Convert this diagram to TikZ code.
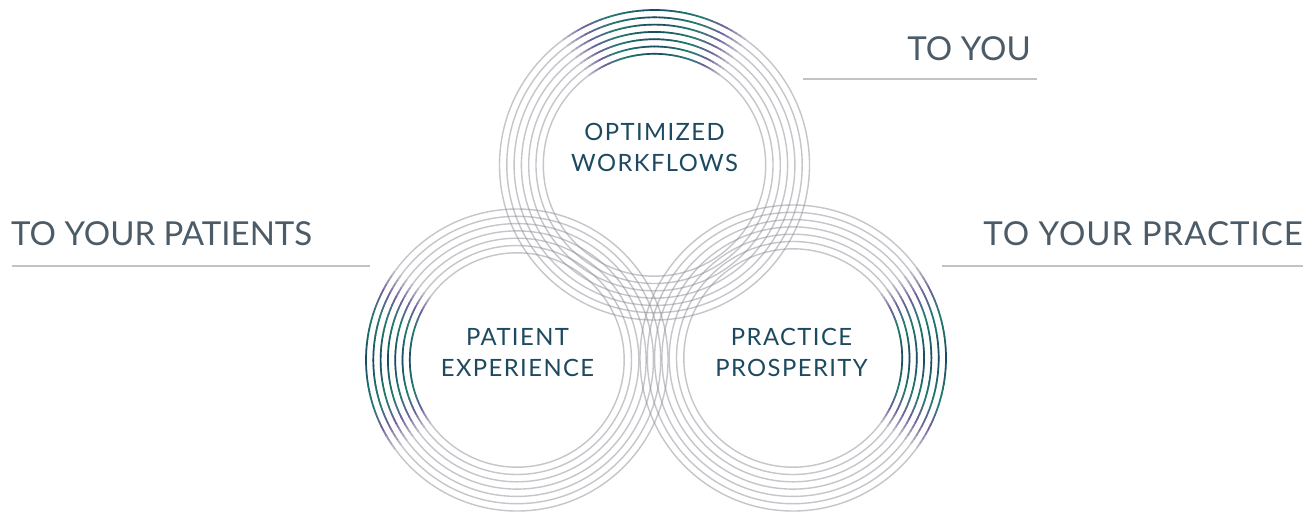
\documentclass[tikz,border=0pt]{standalone}
\usepackage{fontspec}
\setmainfont{Lato}
\newfontfamily\lblfont[LetterSpace=6]{Lato}
\newfontfamily\widefont[LetterSpace=3]{Lato}
\definecolor{navyc}{HTML}{1A4A62}
\definecolor{tealc}{HTML}{1E7D6E}
\definecolor{purplec}{HTML}{7060A0}
\definecolor{ringc}{HTML}{8C8C96}
\definecolor{ringlight}{HTML}{C5C5CA}
\definecolor{labc}{HTML}{1D4A60}
\definecolor{sidec}{HTML}{4B5B67}
\definecolor{rulec}{HTML}{C3C3C3}
\tikzset{
 ring/.style={draw=ringc, draw opacity=0.5, line width=1.4pt},
 glow/.style={line width=1.7pt},
 circlabel/.style={font=\lblfont\fontsize{23.8}{28}\selectfont, text=labc, inner sep=0pt, anchor=base},
 sidelabel/.style={font=\fontsize{33}{40}\selectfont, text=sidec, inner sep=0pt},
 rulerline/.style={draw=rulec, line width=2pt}
}
\newcommand{\ringset}[4]{%
  \foreach \k in {0,...,6} {
    \pgfmathsetmacro\ringr{#3-7.3*\k}
    \draw[ring] (#1,#2) circle[radius=\ringr pt];
  }
  \foreach \k in {0,...,6} {
    \pgfmathsetmacro\ringr{#3-7.3*\k}
    \foreach \a in {-36,-34,...,34} {
      \pgfmathsetmacro\dd{abs(\a+1)}
      \ifdim\dd pt<16pt
        \pgfmathtruncatemacro\mixv{\dd/16*100}
        \colorlet{segc}{tealc!\mixv!navyc}
      \else
        \ifdim\dd pt<27pt
          \pgfmathtruncatemacro\mixv{(\dd-16)/11*100}
          \colorlet{segc}{purplec!\mixv!tealc}
        \else
          \pgfmathtruncatemacro\mixv{min((\dd-27)/9*100,100)}
          \colorlet{segc}{ringlight!\mixv!purplec}
        \fi
      \fi
      \draw[glow, segc] (#1,#2) ++(#4+\a:\ringr pt) arc[start angle=#4+\a, end angle=#4+\a+2.2, radius=\ringr pt];
    }
  }
}
\begin{document}
\begin{tikzpicture}[x=1pt,y=1pt]
\useasboundingbox (0,0) rectangle (1313,-512);
\fill[white] (0,0) rectangle (1313,-512);
\ringset{654.5}{-165}{155}{90}
\ringset{517}{-360}{151}{180}
\ringset{793}{-358}{153}{0}

\node[circlabel] (ow1) at (654.5,-140.5) {OPTIMIZED};
\node[circlabel] (ow2) at (654.5,-171.5) {WORKFLOWS};
\node[circlabel] (pe1) at (517.5,-345) {PATIENT};
\node[circlabel] (pe2) at (517.5,-376) {EXPERIENCE};
\node[circlabel] (pp1) at (791.5,-345) {PRACTICE};
\node[circlabel] (pp2) at (791.5,-376) {PROSPERITY};

\node[sidelabel, anchor=base east] (you) at (1031,-60) {TO YOU};
\node[sidelabel, anchor=base west] (pat) at (11,-245) {TO YOUR PATIENTS};
\node[sidelabel, anchor=base east, font=\widefont\fontsize{33}{40}\selectfont] (prac) at (1303,-245) {TO YOUR PRACTICE};

\coordinate (ya) at (803,-79);
\coordinate (yb) at (1037,-79);
\coordinate (pa) at (12,-266);
\coordinate (pb) at (370,-266);
\coordinate (ra) at (942,-266);
\coordinate (rb) at (1303,-266);
\draw[rulerline] (ya) -- (yb);
\draw[rulerline] (pa) -- (pb);
\draw[rulerline] (ra) -- (rb);
\end{tikzpicture}
\end{document}
